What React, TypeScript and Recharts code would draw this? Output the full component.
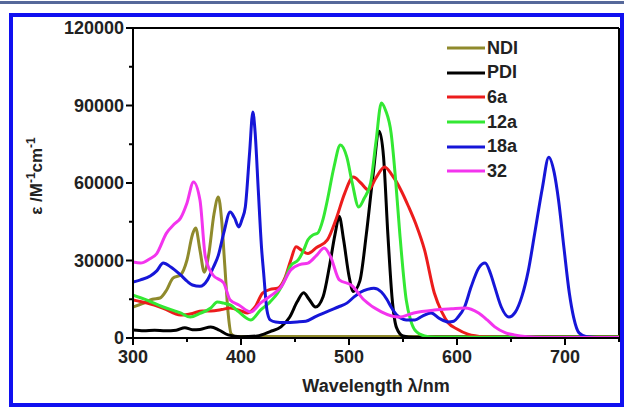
import React from "react";
import { LineChart, Line, XAxis, YAxis, Legend, ReferenceLine, Label } from "recharts";

// wavelengths (nm) and molar absorptivity (M-1 cm-1)
const ndiWl = [300, 310, 318, 325, 331, 337, 344, 350, 355, 358, 362, 366, 370, 375, 379, 382, 385, 388, 391, 395, 750];
const ndiEps = [12000, 13500, 15000, 15500, 18500, 23200, 24400, 30200, 40000, 42600, 34000, 25500, 32000, 48000, 54600, 46000, 28000, 10000, 1500, 600, 600];

const pdiWl = [300, 310, 320, 330, 340, 348, 355, 362, 372, 380, 388, 400, 415, 427, 437, 445, 452, 458, 463, 469, 476, 482, 487, 491, 495, 500, 504, 510, 516, 522, 528, 532, 536, 540, 544, 550, 560, 750];
const pdiEps = [3100, 2800, 3000, 2800, 3000, 4000, 3200, 3300, 4300, 3000, 1200, 500, 800, 2500, 4300, 8000, 14000, 17500, 15000, 12000, 16000, 28000, 40000, 47000, 38000, 24000, 18000, 22000, 40000, 62000, 80000, 70000, 40000, 15000, 4000, 800, 300, 300];

const a6Wl = [300, 313, 328, 344, 355, 364, 372, 382, 390, 400, 406, 413, 420, 427, 434, 441, 446, 451, 456, 462, 470, 480, 488, 496, 504, 511, 518, 525, 533, 540, 548, 555, 562, 570, 579, 586, 592, 600, 610, 625, 650, 750];
const a6Eps = [14700, 13500, 11500, 8900, 9500, 10500, 10500, 11000, 11600, 10500, 9700, 12000, 17400, 18800, 19300, 23600, 30000, 35300, 34000, 32700, 35000, 38000, 46000, 56000, 62300, 60000, 57300, 62000, 66200, 63000, 57300, 51000, 44000, 34000, 17400, 10000, 5800, 3500, 1500, 500, 200, 200];

const a12Wl = [300, 313, 328, 344, 353, 362, 372, 378, 384, 390, 398, 409, 418, 427, 434, 440, 446, 453, 458, 462, 467, 471, 476, 480, 486, 492, 498, 503, 509, 514, 520, 525, 530, 534, 539, 543, 547, 553, 557, 561, 570, 580, 750];
const a12Eps = [16600, 14700, 12000, 9700, 8100, 9500, 11600, 13900, 13500, 12800, 10100, 7000, 10800, 14000, 17400, 22000, 28000, 30200, 34000, 38000, 40000, 40600, 46000, 53400, 66000, 74700, 70000, 60000, 50700, 54000, 60000, 76000, 91000, 88000, 79300, 62000, 40600, 14700, 7000, 3100, 800, 300, 300];

const a18Wl = [300, 307, 316, 322, 328, 335, 344, 350, 355, 362, 369, 374, 379, 384, 390, 394, 398, 401, 404, 408, 411, 413, 416, 419, 421, 424, 427, 432, 440, 452, 460, 470, 483, 490, 498, 505, 511, 517, 523, 530, 535, 539, 544, 548, 553, 561, 568, 576, 584, 592, 597, 601, 607, 613, 620, 626, 631, 635, 641, 648, 654, 660, 666, 672, 679, 685, 690, 694, 699, 704, 708, 713, 720, 730, 750];
const a18Eps = [21700, 22500, 24000, 26000, 29000, 27500, 24400, 22000, 20500, 20000, 22500, 27000, 32000, 40600, 48800, 46500, 43000, 46000, 50700, 72000, 87500, 80000, 57300, 35000, 25000, 10800, 7000, 6200, 6000, 6200, 6500, 8500, 10800, 12000, 13500, 16000, 17800, 18800, 19300, 17800, 15000, 12000, 9000, 7700, 7000, 7000, 8500, 9700, 7500, 6200, 6500, 8100, 12000, 19700, 27000, 29000, 25000, 19700, 12000, 8100, 10000, 16000, 26000, 40600, 58000, 70000, 64000, 53400, 35000, 17400, 8000, 2000, 500, 200, 200];

const c32Wl = [300, 307, 315, 322, 331, 338, 344, 350, 356, 362, 367, 374, 384, 390, 398, 409, 418, 428, 437, 446, 455, 462, 470, 477, 483, 491, 502, 514, 530, 546, 560, 579, 595, 607, 620, 628, 635, 645, 653, 665, 680, 750];
const c32Eps = [29400, 29000, 30500, 32700, 40600, 44000, 46400, 52300, 60400, 53400, 31400, 24400, 21300, 14700, 12800, 10100, 13500, 16500, 19700, 26300, 28500, 29000, 32000, 34800, 31400, 22500, 20500, 14700, 10100, 8100, 9700, 10800, 11300, 11600, 9700, 7000, 4300, 2000, 1200, 500, 200, 200];

const xTicks = [300, 350, 400, 450, 500, 550, 600, 650, 700, 750];
const yTicks = [0, 15000, 30000, 45000, 60000, 75000, 90000, 105000, 120000];

const zip = (wl: number[], eps: number[]) => wl.map((w, i) => ({ wl: w, eps: eps[i] }));

const series = [
  { name: "NDI", color: "#8f8a2c", data: zip(ndiWl, ndiEps) },
  { name: "PDI", color: "#000000", data: zip(pdiWl, pdiEps) },
  { name: "6a", color: "#ec1c1c", data: zip(a6Wl, a6Eps) },
  { name: "12a", color: "#33e833", data: zip(a12Wl, a12Eps) },
  { name: "18a", color: "#1616d8", data: zip(a18Wl, a18Eps) },
  { name: "32", color: "#f334ee", data: zip(c32Wl, c32Eps) },
];

const FONT = "'Liberation Sans', Arial, sans-serif";

const XTick = (props: any) => {
  const { x, y, payload } = props;
  const major = payload.value % 100 === 0 && payload.value < 750;
  return (
    <g>
      <line x1={x} y1={y} x2={x} y2={y + (major ? 7 : 4)} stroke="#000" strokeWidth={2} />
      {major && (
        <text x={x} y={y + 25} textAnchor="middle" fontFamily={FONT} fontWeight="bold" fontSize={18} fill="#222">
          {payload.value}
        </text>
      )}
    </g>
  );
};

const YTick = (props: any) => {
  const { x, y, payload } = props;
  const major = payload.value % 30000 === 0;
  return (
    <g>
      <line x1={x - (major ? 7 : 4)} y1={y} x2={x} y2={y} stroke="#000" strokeWidth={2} />
      {major && (
        <text x={x - 9} y={y} dy="0.36em" textAnchor="end" fontFamily={FONT} fontWeight="bold" fontSize={18} fill="#222">
          {payload.value}
        </text>
      )}
    </g>
  );
};

const YTitle = () => (
  <text transform="translate(42,176) rotate(-90)" textAnchor="middle" fontFamily={FONT} fontWeight="bold" fontSize={17} fill="#222">
    ε /M
    <tspan dy={-7} fontSize={12}>-1</tspan>
    <tspan dy={7}>cm</tspan>
    <tspan dy={-7} fontSize={12}>-1</tspan>
  </text>
);

// legend rows follow the series order (Recharts would sort them by name)
const renderLegend = () => (
  <div style={{ fontFamily: FONT, fontWeight: "bold", fontSize: 18, color: "#222" }}>
    {series.map((s) => (
      <div key={s.name} style={{ display: "flex", alignItems: "center", height: 24.6 }}>
        <svg width={40} height={6}>
          <line x1={0} y1={3} x2={38} y2={3} stroke={s.color} strokeWidth={3} />
        </svg>
        <span>{s.name}</span>
      </div>
    ))}
  </div>
);

export default function App() {
  return (
    <div style={{ position: "relative", width: 624, height: 407, background: "#fff", overflow: "hidden" }}>
      <style>{"body{margin:0}"}</style>
      <div style={{ position: "absolute", left: 0, top: 1, width: 624, height: 3, background: "#56689a" }} />
      <div
        style={{
          position: "absolute",
          left: 9,
          top: 13,
          width: 615,
          height: 394,
          border: "4px solid #1010f0",
          boxSizing: "border-box",
        }}
      />
      <div style={{ position: "absolute", left: 0, top: 0 }}>
        <LineChart width={624} height={407} margin={{ top: 28, right: 5, bottom: 0, left: 0 }}>
          <XAxis
            type="number"
            dataKey="wl"
            domain={[300, 750]}
            ticks={xTicks}
            interval={0}
            allowDataOverflow
            height={69}
            tickSize={0}
            tickMargin={0}
            tickLine={false}
            tick={<XTick />}
            axisLine={{ stroke: "#000", strokeWidth: 2 }}
          >
            <Label
              value="Wavelength λ/nm"
              position="insideBottom"
              offset={15}
              style={{ fontFamily: FONT, fontWeight: "bold", fontSize: 18, fill: "#222" }}
            />
          </XAxis>
          <YAxis
            type="number"
            domain={[0, 120000]}
            ticks={yTicks}
            interval={0}
            allowDataOverflow
            width={133}
            tickSize={0}
            tickMargin={0}
            tickLine={false}
            tick={<YTick />}
            axisLine={{ stroke: "#000", strokeWidth: 2 }}
          >
            <Label content={<YTitle />} />
          </YAxis>
          <ReferenceLine y={120000} stroke="#000" strokeWidth={2} />
          <ReferenceLine x={750} stroke="#000" strokeWidth={2} />
          {series.map((s) => (
            <Line
              key={s.name}
              data={s.data}
              dataKey="eps"
              name={s.name}
              type="monotone"
              stroke={s.color}
              strokeWidth={3}
              dot={false}
              isAnimationActive={false}
            />
          ))}
          <Legend
            layout="vertical"
            align="center"
            verticalAlign="middle"
            content={renderLegend}
            wrapperStyle={{ top: 36, left: 447, width: 120 }}
          />
        </LineChart>
      </div>
    </div>
  );
}
